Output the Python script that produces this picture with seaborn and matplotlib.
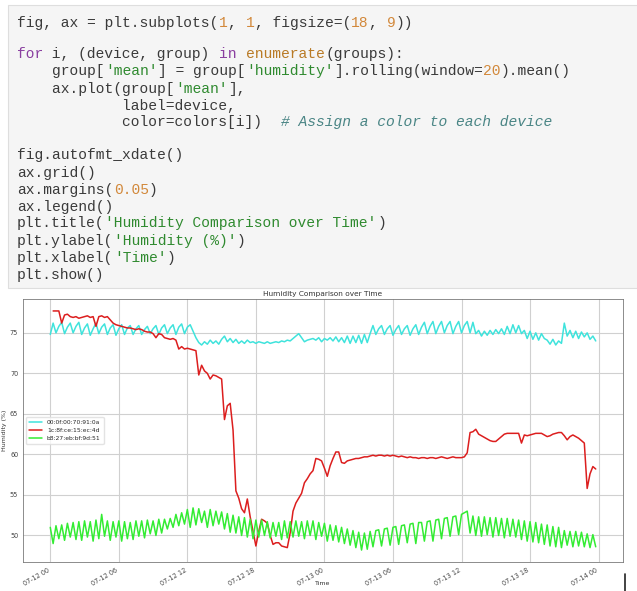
import numpy as np
import pandas as pd
import seaborn as sns
import matplotlib.pyplot as plt
import matplotlib.dates as mdates
from matplotlib.patches import Rectangle
from matplotlib.lines import Line2D

# values, one reading every 15 minutes, one row per hour
devices = ['00:0f:00:70:91:0a', '1c:8f:ce:15:ec:4d', 'b8:27:eb:bf:9d:51']
colors = ['#3fe3dc', '#dc1e1e', '#33ec33']
start = '2023-07-12 00:00'
step_minutes = 15

hum_cyan = [
    74.8, 76.2, 75.0, 75.8,  76.3, 74.9, 75.7, 76.2,  75.0, 75.8, 76.3, 74.8,
    75.6, 76.1, 74.7, 75.5,  76.2, 74.9, 75.7, 76.1,  74.8, 75.6, 76.0, 74.7,
    75.5, 76.0, 74.8, 75.6,  75.9, 74.8, 75.5, 75.9,  74.8, 75.4, 75.8, 74.9,
    75.5, 75.9, 74.8, 75.6,  76.0, 74.9, 75.6, 76.0,  74.8, 75.7, 76.1, 74.9,
    75.7, 76.0, 75.2, 74.4,  73.8, 73.5, 73.9, 73.6,  74.1, 73.7, 74.0, 73.6,
    74.2, 74.6, 73.9, 74.3,  73.8, 74.2, 73.7, 74.0,  73.7, 74.1, 73.8, 73.9,
    73.7, 73.9, 73.8, 73.7,  73.9, 73.7, 73.8, 73.9,  73.8, 74.0, 73.9, 74.1,
    74.0, 74.3, 74.6, 74.9,  74.4, 73.9, 74.1, 74.2,  74.3, 74.1, 74.4, 73.9,
    74.3, 74.1, 74.4, 74.0,  74.5, 73.9, 74.4, 73.8,  74.6, 73.7, 74.6, 73.8,
    74.7, 73.7, 74.8, 73.8,  74.9, 75.9, 74.8, 75.5,  75.9, 74.8, 75.5, 75.9,
    74.7, 75.4, 75.9, 74.8,  75.5, 75.9, 74.7, 75.5,  76.0, 74.8, 75.7, 76.3,
    74.9, 75.8, 76.4, 74.9,  75.8, 76.4, 75.0, 75.9,  76.4, 74.9, 75.8, 76.4,
    75.0, 75.9, 76.4, 75.0,  76.3, 74.9, 75.3, 74.6,  75.2, 74.7, 75.3, 74.8,
    75.4, 74.9, 75.5, 74.8,  75.8, 74.9, 76.0, 75.0,  75.9, 74.9, 75.3, 74.3,
    75.2, 74.2, 75.0, 74.1,  74.9, 74.3, 74.1, 73.6,  74.2, 73.5, 74.0, 73.7,
    76.2, 74.6, 75.3, 74.4,  75.2, 74.3, 75.1, 74.5,  75.0, 74.2, 74.6, 74.0,
]

hum_red = [
    np.nan, 77.7, 77.7, 77.7,  76.2, 77.2, 77.3, 77.0,  76.9, 77.0, 76.8, 76.9,
    77.0, 77.1, 76.9, 77.0,  75.8, 77.0, 77.1, 76.9,  77.0, 76.6, 76.2, 76.0,
    75.9, 75.8, 75.7, 75.6,  75.6, 75.5, 75.4, 75.5,  75.4, 75.2, 75.1, 75.1,
    74.9, 74.4, 74.9, 74.8,  74.4, 74.3, 74.2, 74.3,  74.1, 73.0, 73.3, 73.0,
    73.1, 73.0, 72.9, 72.8,  69.8, 71.0, 70.3, 70.0,  69.3, 69.8, 69.7, 69.5,
    69.3, 64.3, 66.0, 66.3,  63.0, 55.5, 54.6, 53.3,  52.8, 54.5, 52.3, 50.5,
    48.7, 50.5, 52.0, 51.8,  51.5, 50.0, 48.9, 49.1,  49.1, 48.7, 48.6, 48.5,
    50.3, 53.0, 54.0, 54.6,  55.2, 56.5, 57.0, 57.6,  58.0, 59.5, 59.4, 59.2,
    58.3, 57.3, 58.6, 59.5,  60.3, 60.3, 59.0, 58.9,  59.2, 59.3, 59.4, 59.5,
    59.5, 59.6, 59.7, 59.7,  59.8, 59.9, 59.8, 59.9,  59.9, 59.8, 59.9, 59.8,
    59.9, 59.8, 59.7, 59.8,  59.7, 59.6, 59.7, 59.6,  59.6, 59.5, 59.6, 59.6,
    59.5, 59.6, 59.6, 59.5,  59.6, 59.7, 59.6, 59.5,  59.6, 59.7, 59.6, 59.6,
    59.6, 59.7, 60.2, 62.7,  62.8, 63.1, 62.5, 62.3,  62.1, 61.9, 61.7, 61.6,
    61.6, 61.9, 62.2, 62.5,  62.6, 62.6, 62.6, 62.6,  62.6, 61.4, 62.4, 62.3,
    62.4, 62.5, 62.6, 62.6,  62.6, 62.4, 62.2, 62.3,  62.5, 62.6, 62.7, 62.7,
    62.3, 61.8, 62.2, 62.4,  62.2, 62.0, 61.7, 61.4,  55.8, 57.6, 58.5, 58.2,
]

hum_green = [
    51.0, 49.0, 51.2, 49.6,  51.3, 49.4, 51.5, 49.8,  51.6, 49.5, 51.7, 49.4,
    51.8, 49.8, 51.7, 49.3,  51.9, 49.6, 52.6, 49.9,  51.8, 49.4, 51.7, 49.8,
    51.8, 49.3, 51.7, 49.6,  51.6, 49.5, 51.8, 49.9,  51.8, 49.7, 51.9, 50.2,
    51.8, 50.0, 52.0, 50.3,  52.0, 50.8, 52.1, 51.0,  52.6, 51.2, 52.8, 51.4,
    53.2, 51.0, 53.4, 51.3,  53.3, 51.6, 53.0, 51.0,  53.2, 51.2, 53.0, 51.4,
    52.9, 50.8, 52.7, 50.4,  52.5, 50.3, 52.3, 50.0,  52.2, 49.8, 52.0, 49.6,
    51.9, 49.8, 51.9, 50.0,  51.7, 49.7, 51.6, 49.9,  51.6, 49.5, 51.8, 49.7,
    51.7, 49.8, 51.8, 49.9,  51.7, 49.6, 51.8, 50.0,  51.8, 49.5, 51.6, 49.9,
    51.5, 49.3, 51.3, 49.4,  51.2, 49.2, 51.0, 49.0,  50.8, 48.8, 50.6, 48.5,
    50.4, 48.2, 50.3, 48.3,  50.5, 48.6, 50.6, 50.7,  48.7, 50.8, 50.9, 48.8,
    51.0, 51.1, 48.9, 51.2,  51.3, 49.1, 51.4, 51.5,  49.0, 51.6, 51.6, 49.3,
    51.7, 51.8, 49.3, 51.9,  52.0, 49.6, 52.1, 52.2,  49.9, 52.3, 52.4, 50.1,
    52.6, 52.8, 53.0, 50.3,  52.4, 50.0, 52.3, 49.9,  52.3, 50.1, 52.2, 49.8,
    52.2, 50.0, 52.1, 49.7,  52.1, 49.9, 52.0, 49.8,  51.9, 49.5, 51.8, 49.3,
    51.7, 49.2, 51.6, 49.1,  51.4, 48.9, 51.3, 48.7,  51.1, 48.6, 51.0, 48.5,
    50.6, 48.8, 50.5, 48.6,  50.5, 48.7, 50.4, 48.6,  50.2, 48.5, 50.1, 48.6,
]

series = [hum_cyan, hum_red, hum_green]

# notebook cell shown above the chart: (text, colour) tokens per line
C_TXT, C_KW, C_BI, C_STR, C_NUM, C_COM = '#3a3a3a', '#8a3fa0', '#b97a25', '#2f8a2f', '#d2883a', '#4a8585'
code_lines = [
    (22.7, [("fig, ax = plt.subplots(", C_TXT), ("1", C_NUM), (", ", C_TXT), ("1", C_NUM),
            (", figsize=(", C_TXT), ("18", C_NUM), (", ", C_TXT), ("9", C_NUM), ("))", C_TXT)]),
    (54.0, [("for", C_KW), (" i, (device, group) ", C_TXT), ("in", C_KW), (" ", C_TXT),
            ("enumerate", C_BI), ("(groups):", C_TXT)]),
    (71.3, [("    group[", C_TXT), ("'mean'", C_STR), ("] = group[", C_TXT), ("'humidity'", C_STR),
            ("].rolling(window=", C_TXT), ("20", C_NUM), (").mean()", C_TXT)]),
    (88.7, [("    ax.plot(group[", C_TXT), ("'mean'", C_STR), ("],", C_TXT)]),
    (106.0, [("            label=device,", C_TXT)]),
    (122.0, [("            color=colors[i])  ", C_TXT), ("# Assign a color to each device", C_COM)]),
    (155.3, [("fig.autofmt_xdate()", C_TXT)]),
    (172.7, [("ax.grid()", C_TXT)]),
    (190.0, [("ax.margins(", C_TXT), ("0.05", C_NUM), (")", C_TXT)]),
    (206.7, [("ax.legend()", C_TXT)]),
    (223.3, [("plt.title(", C_TXT), ("'Humidity Comparison over Time'", C_STR), (")", C_TXT)]),
    (240.7, [("plt.ylabel(", C_TXT), ("'Humidity (%)'", C_STR), (")", C_TXT)]),
    (258.0, [("plt.xlabel(", C_TXT), ("'Time'", C_STR), (")", C_TXT)]),
    (275.3, [("plt.show()", C_TXT)]),
]

sns.set_style('whitegrid', {'grid.color': '#d0d0d0', 'axes.edgecolor': '#7a7a7a'})
plt.rcParams['font.family'] = ['DejaVu Sans']

W, H = 637, 591
fig = plt.figure(figsize=(W / 100, H / 100), dpi=100)
fig.patch.set_facecolor('white')

# code cell background
fig.add_artist(Rectangle((8 / W, 1 - 288 / H), 640 / W, 283 / H, transform=fig.transFigure,
                         facecolor='#f5f5f5', edgecolor='#dedede', linewidth=0.8))

char_w = 8.8
for y, toks in code_lines:
    col = 0
    for txt, c in toks:
        fig.text((17 + col * char_w) / W, 1 - y / H, txt, color=c,
                 family='Liberation Mono', fontsize=char_w / 0.6 * 0.72,
                 style='italic' if c == C_COM else 'normal', va='center', ha='left')
        col += len(txt)

# chart
ax = fig.add_axes([23 / W, (H - 562) / H, 600 / W, 263 / H])
times = pd.date_range(start, periods=len(hum_cyan), freq=f'{step_minutes}min')
for i, device in enumerate(devices):
    sns.lineplot(x=times, y=series[i], color=colors[i], label=device,
                 estimator=None, linewidth=1.1, ax=ax)

ax.margins(0.05)
ax.xaxis.set_major_locator(mdates.HourLocator(byhour=[0, 6, 12, 18]))
ax.xaxis.set_major_formatter(mdates.DateFormatter('%m-%d %H'))
ax.set_yticks([50, 55, 60, 65, 70, 75])
ax.grid(True, linewidth=0.8)
for lab in ax.get_xticklabels():
    lab.set_rotation(30)
    lab.set_ha('right')
ax.tick_params(labelsize=4.7, length=2, width=0.5, pad=1.5, colors='#444444')
for s in ax.spines.values():
    s.set_linewidth(0.6)
ax.set_title('Humidity Comparison over Time', fontsize=5.3, pad=2.5, color='#333333')
ax.set_ylabel('Humidity (%)', fontsize=4.5, labelpad=2, color='#333333')
ax.set_xlabel('Time', fontsize=4.5, color='#333333')
ax.xaxis.set_label_coords(0.5, -0.074)
ax.legend(loc='center left', fontsize=4.3, frameon=True, framealpha=0.8,
          edgecolor='#dddddd', borderpad=0.5, handlelength=2.2)

# crop edge visible at the lower right of the screenshot
fig.add_artist(Line2D([625 / W, 625 / W], [0, 17 / H], transform=fig.transFigure,
                      color='#222222', linewidth=1.2))

fig.savefig('out.png', dpi=100)
